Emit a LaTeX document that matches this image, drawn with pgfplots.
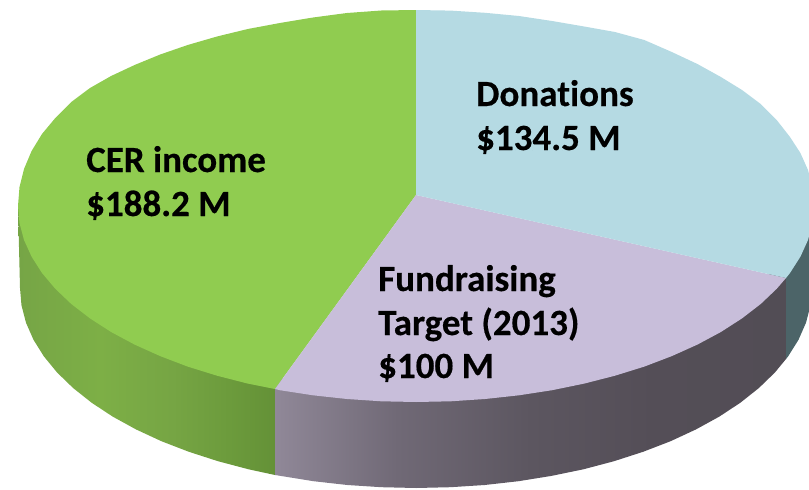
\documentclass[border=0pt]{standalone}
\usepackage{pgfplots}
\pgfplotsset{compat=1.18}
\usepackage{fontspec}
\setmainfont{Carlito}[Ligatures=NoCommon,BoldFeatures={FakeBold=0.4}]
\definecolor{gtop}{HTML}{90CC50}
\definecolor{btop}{HTML}{B5DAE3}
\definecolor{ptop}{HTML}{C8BEDA}
\definecolor{tside}{HTML}{4C6468}
\definecolor{ga}{RGB}{118,165,70}
\definecolor{gb}{RGB}{125,175,70}
\definecolor{gc}{RGB}{118,165,68}
\definecolor{gd}{RGB}{108,155,60}
\definecolor{ge}{RGB}{100,145,55}
\definecolor{pa}{RGB}{144,136,152}
\definecolor{pb}{RGB}{112,105,118}
\definecolor{pc}{RGB}{92,86,96}
\definecolor{pd}{RGB}{84,78,87}
\definecolor{pe}{RGB}{82,77,85}
\pgfdeclarehorizontalshading{greenside}{100bp}{
 color(0bp)=(ga);
 color(25bp)=(ga);
 color(41bp)=(gb);
 color(55bp)=(gc);
 color(66bp)=(gd);
 color(75bp)=(ge);
 color(100bp)=(ge)}
\pgfdeclarehorizontalshading{purpleside}{100bp}{
 color(0bp)=(pa);
 color(25bp)=(pa);
 color(37bp)=(pb);
 color(50bp)=(pc);
 color(62bp)=(pd);
 color(75bp)=(pe);
 color(100bp)=(pe)}
\begin{document}
\begin{tikzpicture}
\path[use as bounding box] (0,0) rectangle (809pt,490pt);
\begin{axis}[
  at={(0,0)}, anchor=south west,
  width=809pt, height=490pt, scale only axis,
  xmin=0, xmax=809, ymin=0, ymax=490, y dir=reverse,
  axis lines=none, ticks=none, clip=true,
]
% side faces
\addplot[draw=none, shading=greenside] coordinates {
(18,206)(20,288)(21.5,305.4)(26,322.7)(33.5,339.8)(43.9,356.4)(57.1,372.5)(73.1,388)(91.6,402.7)(112.7,416.6)(136,429.4)(161.4,441.2)(188.9,451.8)(218,461.2)(248.6,469.3)(275,475)(275,380)(100,206)} --cycle;
\addplot[draw=none, shading=purpleside] coordinates {
(275,380)(275,475)(280.6,475.9)(313.5,481.2)(347.3,485)(381.5,487.2)(416,488)(450.5,487.2)(484.7,485)(518.5,481.2)(551.4,475.9)(583.4,469.3)(614,461.2)(643.1,451.8)(670.6,441.2)(696,429.4)(719.3,416.6)(740.4,402.7)(758.9,388)(774.9,372.5)(786,359)(786,270)} --cycle;
\addplot[draw=none, fill=tside] coordinates {
(786,270)(786,359)(788.1,356.4)(798.5,339.8)(806,322.7)(810.5,305.4)(812,288)(814,206)(786,206)} --cycle;
% top faces
\addplot[draw=none, fill=gtop] coordinates {
(416,195)(416,10)(381.3,10.5)(346.9,13)(313,17.5)(279.9,23)(247.8,29)(217,36.5)(187.7,45)(160.2,54.5)(134.6,65)(111.1,76)(90,88)(71.3,102)(55.3,118)(42,134)(31.6,151)(24,169)(19.5,187)(18,206)(19.5,223.1)(24,240)(31.6,256.7)(42,273)(55.3,288.8)(71.3,304)(90,318.4)(111.1,332)(134.6,344.6)(160.2,356.1)(187.7,366.6)(217,375.7)(247.8,383.6)(275,389)} --cycle;
\addplot[draw=none, fill=ptop] coordinates {
(416,195)(275,389)(279.9,390.2)(313,395.3)(346.9,399)(381.3,401.3)(416,402)(450.7,401.3)(485.1,399)(519,395.3)(552.1,390.2)(584.2,383.6)(615,375.7)(644.3,366.6)(671.8,356.1)(697.4,344.6)(720.9,332)(742,318.4)(760.7,304)(776.7,288.8)(786,278)} --cycle;
\addplot[draw=none, fill=btop] coordinates {
(416,195)(786,278)(790,273)(800.4,256.7)(808,240)(812.5,223.1)(814,206)(812.5,187)(808,170)(800.4,153)(790,137)(776.7,120)(760.7,104)(742,90)(720.9,77)(697.4,64)(671.8,52)(644.3,40)(615,32)(584.2,26.5)(552.1,21)(519,16)(485.1,12.8)(450.7,10.6)(416,10)} --cycle;
% labels
\tikzset{lab/.style={anchor=base west, inner sep=0pt, font=\fontsize{37}{44}\selectfont\bfseries, text=black}}
\node[lab] at (axis cs:476,106) {Donations};
\node[lab] at (axis cs:476,150) {\$134.5 M};
\node[lab] at (axis cs:86,172) {CER income};
\node[lab] at (axis cs:86,216) {\$188.2 M};
\node[lab] at (axis cs:378,291) {Fundraising};
\node[lab] at (axis cs:378,335) {Target (2013)};
\node[lab] at (axis cs:378,378) {\$100 M};
\end{axis}
\end{tikzpicture}
\end{document}
